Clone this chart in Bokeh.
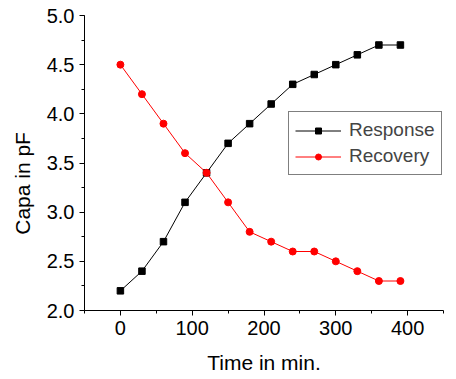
from bokeh.plotting import figure
from bokeh.models import Range1d, SingleIntervalTicker, PrintfTickFormatter, Legend, LegendItem
from bokeh.embed import file_html
from bokeh.resources import INLINE

time_min = [0, 30, 60, 90, 120, 150, 180, 210, 240, 270, 300, 330, 360, 390]
response = [2.2, 2.4, 2.7, 3.1, 3.4, 3.7, 3.9, 4.1, 4.3, 4.4, 4.5, 4.6, 4.7, 4.7]
recovery = [4.5, 4.2, 3.9, 3.6, 3.4, 3.1, 2.8, 2.7, 2.6, 2.6, 2.5, 2.4, 2.3, 2.3]
x_label = "Time in min."
y_label = "Capa in pF"

FONT = "Liberation Sans"

p = figure(width=456, height=379, output_backend="svg", toolbar_location=None,
           x_range=Range1d(-50, 450), y_range=Range1d(2.0, 5.0),
           min_border_left=84, min_border_right=13, min_border_top=15, min_border_bottom=69)
p.outline_line_color = None
p.xgrid.visible = False
p.ygrid.visible = False
p.background_fill_color = "white"
p.border_fill_color = "white"

l1 = p.line(time_min, response, line_color="black", line_width=1)
s1 = p.scatter(time_min, response, marker="square", size=6.5, fill_color="black", line_color="black")
l2 = p.line(time_min, recovery, line_color="red", line_width=1)
s2 = p.scatter(time_min, recovery, marker="circle", size=7, fill_color="red", line_color="red")

p.xaxis.ticker = SingleIntervalTicker(interval=100, num_minor_ticks=2)
p.yaxis.ticker = SingleIntervalTicker(interval=0.5, num_minor_ticks=2)
p.yaxis.formatter = PrintfTickFormatter(format="%.1f")

for ax in (p.xaxis[0], p.yaxis[0]):
    ax.axis_line_color = "black"
    ax.major_tick_line_color = "black"
    ax.minor_tick_line_color = "black"
    ax.major_tick_out = 5
    ax.major_tick_in = 0
    ax.minor_tick_out = 3
    ax.minor_tick_in = 0
    ax.major_label_text_font = FONT
    ax.major_label_text_font_size = "20px"
    ax.major_label_text_color = "black"
    ax.axis_label_text_font = FONT
    ax.axis_label_text_font_size = "21px"
    ax.axis_label_text_font_style = "normal"
    ax.axis_label_text_color = "black"

p.xaxis.axis_label = x_label
# trailing no-break spaces push the rotated title a little below the centre, as in the original
p.yaxis.axis_label = y_label + "\u00a0" * 7
p.xaxis.major_label_standoff = 5
p.yaxis.major_label_standoff = 5
p.xaxis.axis_label_standoff = 13
p.yaxis.axis_label_standoff = 10

legend = Legend(items=[LegendItem(label="Response", renderers=[l1, s1]),
                       LegendItem(label="Recovery", renderers=[l2, s2])],
                location=(204, 135))
legend.label_text_font = FONT
legend.label_text_font_size = "19px"
legend.border_line_color = "black"
legend.border_line_width = 1
legend.background_fill_alpha = 1
legend.padding = 6
legend.margin = 0
legend.spacing = 2
legend.glyph_width = 46
legend.glyph_height = 15
legend.label_height = 24
legend.label_standoff = 8
p.add_layout(legend)

open("out.html", "w").write(file_html(p, INLINE))
